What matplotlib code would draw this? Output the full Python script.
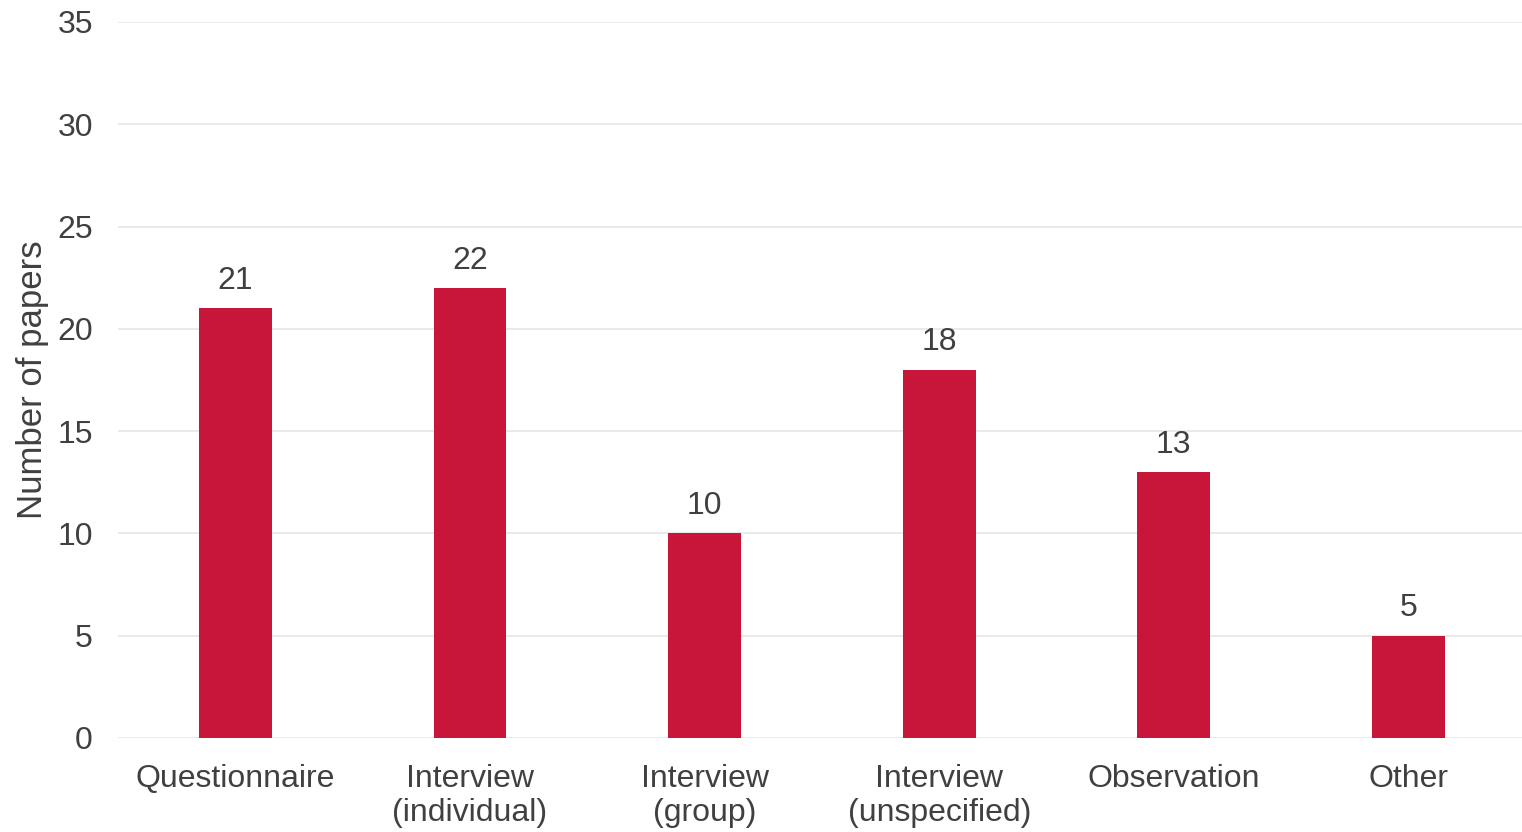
import matplotlib.pyplot as plt

# Dados
categorias = ['Questionnaire', 'Interview\n(individual)', 'Interview\n(group)',
              'Interview\n(unspecified)', 'Observation', 'Other']
valores = [21, 22, 10, 18, 13, 5]
ticks_y = [0, 5, 10, 15, 20, 25, 30, 35]

plt.rcParams['font.family'] = ['Liberation Sans', 'DejaVu Sans']
cor_texto = '#404040'

fig = plt.figure(figsize=(15.22, 8.32), dpi=100)
ax = fig.add_axes([0.0775, 0.113, 0.925, 0.8606])

x = range(len(categorias))
ax.bar(x, valores, width=0.31, color='#C8163A', zorder=3)

# Rótulos das barras
for xi, v in zip(x, valores):
    ax.text(xi, v + 0.6, str(v), ha='center', va='bottom', fontsize=23, color=cor_texto)

ax.set_xlim(-0.5, len(categorias) - 0.5)
ax.set_ylim(0, 35)
ax.set_yticks(ticks_y)
ax.set_xticks(list(x))
ax.set_xticklabels(categorias, fontsize=23, color=cor_texto, linespacing=1.15)
ax.tick_params(axis='y', labelsize=23, labelcolor=cor_texto, length=0, pad=18)
ax.tick_params(axis='x', length=0, pad=19)

ax.grid(axis='y', color='#e6e6e6', linewidth=1.2, zorder=0)
for s in ax.spines.values():
    s.set_visible(False)

ax.set_ylabel('Number of papers', fontsize=25, color=cor_texto, labelpad=6)

fig.savefig('out.png', dpi=100)
